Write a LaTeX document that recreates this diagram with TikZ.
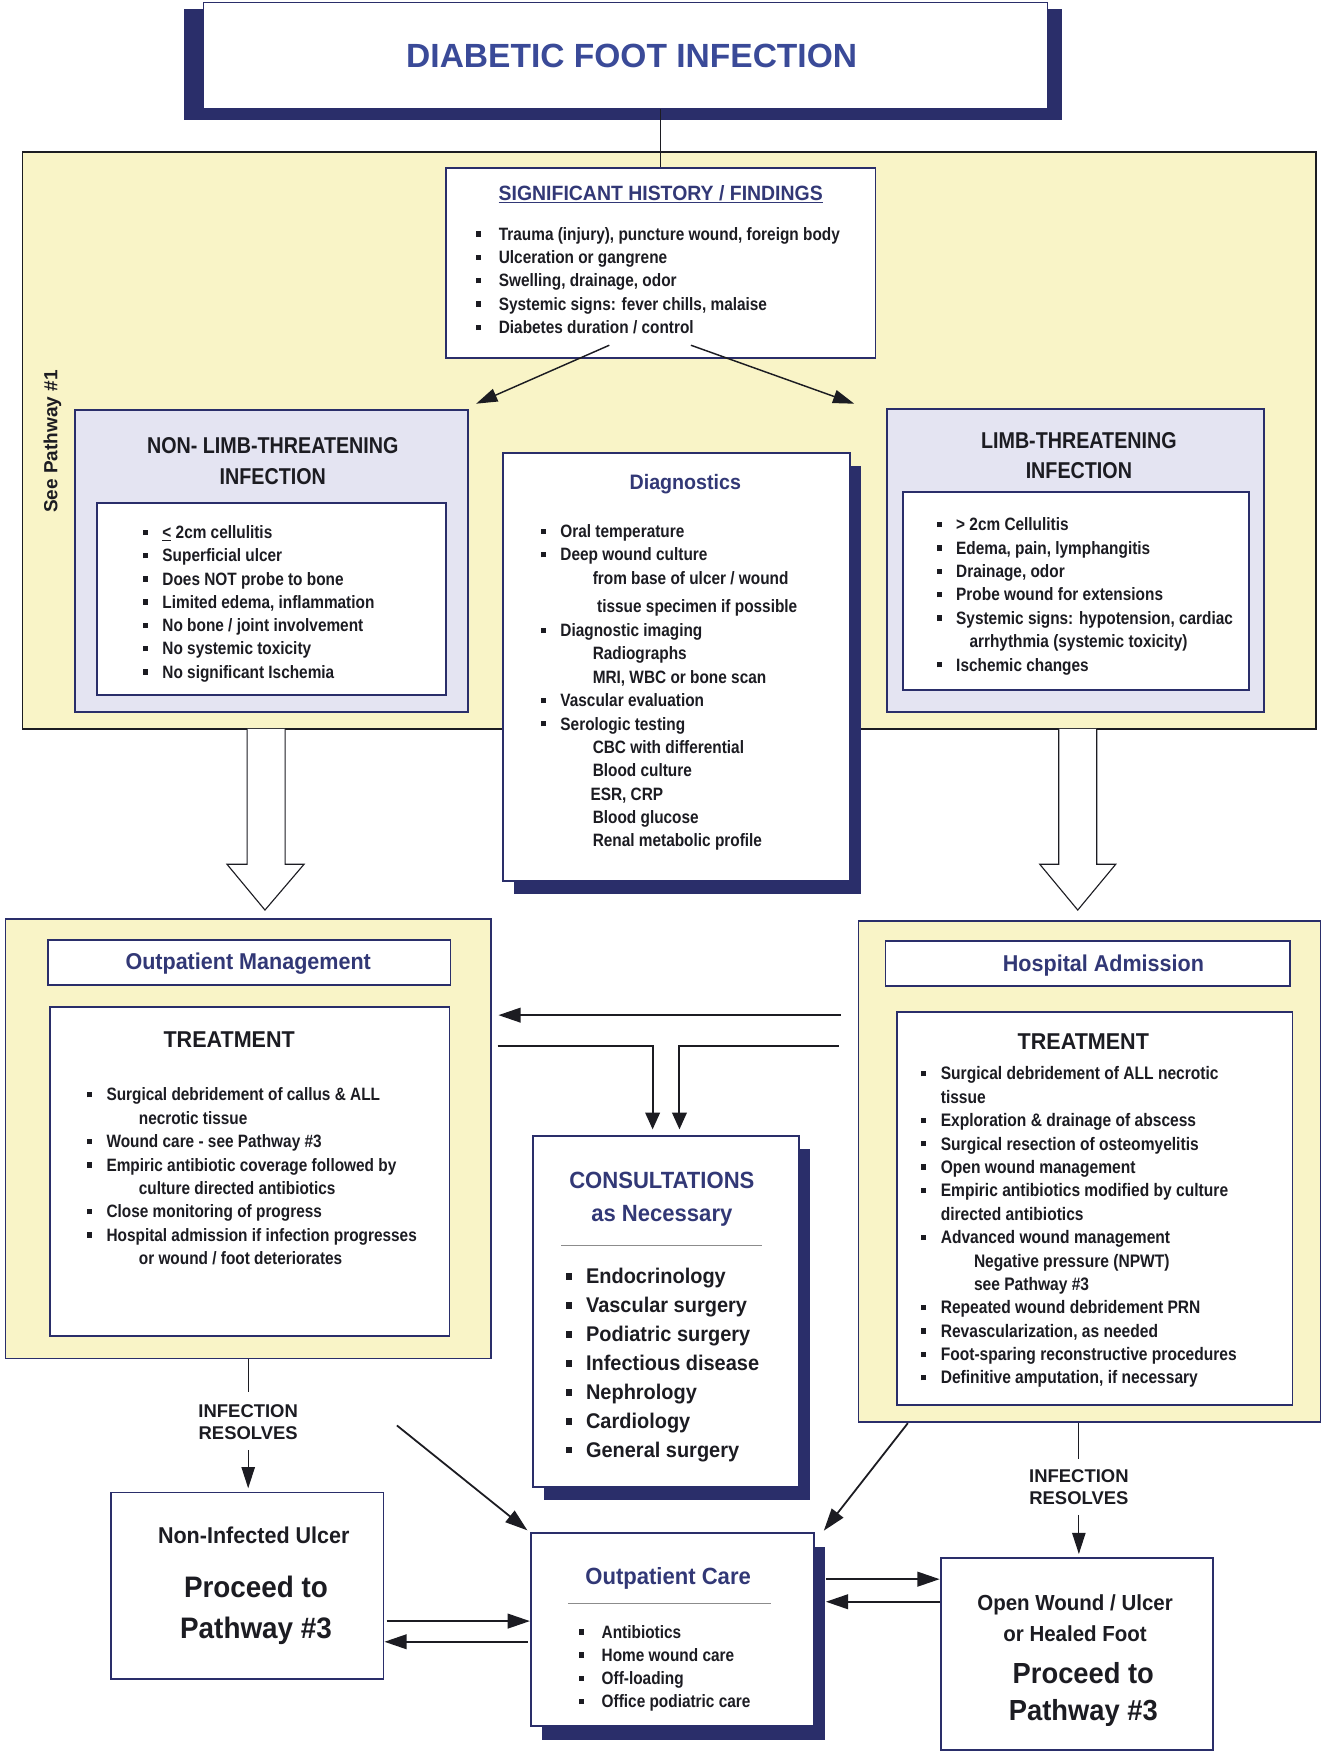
\documentclass[tikz,border=0pt]{standalone}
\usepackage{fontspec}
\setmainfont{Liberation Sans}
\newfontfamily\nf[FakeStretch=0.86]{Liberation Sans}
\newfontfamily\hf[FakeStretch=0.94]{Liberation Sans}
\usepackage{xcolor}
\usepackage{tikz}
\usetikzlibrary{positioning,shapes,arrows.meta,shadows}

\definecolor{navy}{RGB}{42,46,106}
\definecolor{headblue}{RGB}{50,56,118}
\definecolor{titleblue}{RGB}{58,74,152}
\definecolor{paleyellow}{RGB}{249,244,199}
\definecolor{lavender}{RGB}{228,228,242}
\definecolor{ink}{RGB}{28,28,34}

\newcommand{\sqb}[1][1.1em]{\makebox[#1][l]{\rule[.2em]{.3em}{.3em}}}

\begin{document}
\begin{tikzpicture}[x=1pt, y=-1pt,
    panel/.style={rectangle, draw=navy, line width=1.6pt, fill=white, inner sep=0pt},
    yellowpanel/.style={rectangle, draw=navy, line width=1.5pt, fill=paleyellow, inner sep=0pt},
    lavpanel/.style={rectangle, draw=navy, line width=1.8pt, fill=lavender, inner sep=0pt},
    shadowed/.style={drop shadow={shadow xshift=10pt, shadow yshift=-12pt, fill=navy, opacity=1}},
    body/.style={anchor=north west, inner sep=0pt, align=left, text=ink, font=\nf\bfseries\fontsize{16}{20.9}\selectfont},
    heading/.style={inner sep=0pt, align=center, text=headblue, font=\hf\bfseries\fontsize{20.5}{29}\selectfont},
    infhead/.style={inner sep=0pt, align=center, text=ink, font=\nf\bfseries\fontsize{20.5}{27}\selectfont},
    treathead/.style={inner sep=0pt, text=ink, font=\hf\bfseries\fontsize{20.5}{24}\selectfont},
    resolve/.style={inner sep=0pt, align=center, text=ink, font=\bfseries\fontsize{16.5}{20}\selectfont},
    bigtext/.style={inner sep=0pt, align=center, text=ink, font=\hf\bfseries\fontsize{26.5}{37}\selectfont},
    arrow/.style={-{Triangle[length=20pt, width=13pt]}, line width=2.2pt, draw=ink},
    thinarrow/.style={-{Triangle[length=19pt, width=12pt]}, line width=1.3pt, draw=ink},
    link/.style={line width=1.1pt, draw=ink},
    hollow/.style={draw=ink, line width=1pt, fill=white},
    rulegray/.style={draw=black!45, line width=0.8pt}
]
\useasboundingbox (0,0) rectangle (1183,1568);
\fill[white] (0,0) rectangle (1183,1568);

% Title
\fill[navy] (165,8) rectangle (950,107);
\node[panel, line width=1pt, minimum width=755pt, minimum height=95pt] (title) at (559.5,49.5) {};
\node[inner sep=0pt, text=titleblue, font=\bfseries\fontsize{30}{34}\selectfont] (titletext) at (565,50) {DIABETIC FOOT INFECTION};

% Assessment region
\node[yellowpanel, draw=ink, line width=1.3pt, minimum width=1157pt, minimum height=516pt] (upper) at (598.5,394) {};
\node[rotate=90, inner sep=0pt, text=ink, font=\bfseries\fontsize{17}{20}\selectfont] (seepath) at (47,395) {See Pathway \#1};

% History / findings
\node[panel, minimum width=384pt, minimum height=170pt] (hist) at (591,235) {};
\node[heading, font=\hf\bfseries\fontsize{18.5}{22}\selectfont] (histhead) at (591,174) {\underline{SIGNIFICANT HISTORY / FINDINGS}};
\node[body] (histlist) at (425.5,203) {\sqb[20.5pt]Trauma (injury), puncture wound, foreign body\\
  \sqb[20.5pt]Ulceration or gangrene\\
  \sqb[20.5pt]Swelling, drainage, odor\\
  \sqb[20.5pt]Systemic signs: fever chills, malaise\\
  \sqb[20.5pt]Diabetes duration / control};
\draw[link] (title.south -| hist.north) -- (hist.north);

% Non limb-threatening
\node[lavpanel, minimum width=352pt, minimum height=270pt] (nonlimb) at (243,502) {};
\node[infhead] (nonlimbhead) at (244,412.5) {NON- LIMB-THREATENING\\INFECTION};
\node[panel, minimum width=312pt, minimum height=172pt] (nonlimbin) at (243,536) {};
\node[body, font=\nf\bfseries\fontsize{16}{20.8}\selectfont] (nonlimblist) at (127.5,470) {\sqb\underline{<} 2cm cellulitis\\
  \sqb Superficial ulcer\\
  \sqb Does NOT probe to bone\\
  \sqb Limited edema, inflammation\\
  \sqb No bone / joint  involvement\\
  \sqb No systemic  toxicity\\
  \sqb No significant Ischemia};

% Limb-threatening
\node[lavpanel, minimum width=338pt, minimum height=271pt] (limb) at (962,501.5) {};
\node[infhead] (limbhead) at (965,407.5) {LIMB-THREATENING\\INFECTION};
\node[panel, minimum width=309pt, minimum height=177pt] (limbin) at (962.5,528.5) {};
\node[body] (limblist) at (837.5,463) {\sqb > 2cm Cellulitis\\
  \sqb Edema, pain, lymphangitis\\
  \sqb Drainage, odor\\
  \sqb Probe wound for extensions\\
  \sqb Systemic signs: hypotension, cardiac\\
  \hspace*{29.5pt}arrhythmia (systemic toxicity)\\
  \sqb Ischemic changes};

\draw[thinarrow] ([xshift=-46pt, yshift=12pt]hist.south) -- ([xshift=6pt, yshift=5pt]nonlimb.north east);
\draw[thinarrow] ([xshift=27pt, yshift=12pt]hist.south) -- ([xshift=-28pt, yshift=4pt]limb.north west);

% Diagnostics
\node[panel, shadowed, minimum width=310pt, minimum height=383pt] (diag) at (605,596.5) {};
\node[heading, font=\hf\bfseries\fontsize{18.7}{22}\selectfont] (diaghead) at (613,433) {Diagnostics};
\node[body] (diaglist) at (483.5,469) {\sqb Oral temperature\\
  \sqb Deep wound culture\\
  \hspace*{46.5pt}from base of ulcer / wound\\[4pt]
  \hspace*{50.5pt}tissue specimen if possible\\[1pt]
  \sqb Diagnostic imaging\\
  \hspace*{46.5pt}Radiographs\\
  \hspace*{46.5pt}MRI, WBC or bone scan\\
  \sqb Vascular evaluation\\
  \sqb Serologic testing\\
  \hspace*{46.5pt}CBC with differential\\
  \hspace*{46.5pt}Blood culture\\
  \hspace*{44.5pt}ESR, CRP\\
  \hspace*{46.5pt}Blood glucose\\
  \hspace*{46.5pt}Renal metabolic profile};

% Block arrows down
\draw[hollow] (221,652) -- (221,773) -- (203,773) -- (237,814) -- (272,773) -- (255,773) -- (255,652);
\draw[hollow] (947,652) -- (947,773) -- (930,773) -- (964,814) -- (998,773) -- (981,773) -- (981,652);

% Outpatient management
\node[yellowpanel, minimum width=434pt, minimum height=393pt] (outmgmt) at (222,1018.5) {};
\node[panel, minimum width=360pt, minimum height=40pt] (outhead) at (223,861) {};
\node[heading] (outheadtext) at (222,862) {Outpatient Management};
\node[panel, minimum width=357pt, minimum height=294pt] (outtreat) at (223.5,1048) {};
\node[treathead] (outtreathead) at (205,930) {TREATMENT};
\node[body] (outlist) at (77.5,973) {\sqb Surgical debridement of callus \& ALL\\
  \hspace*{46.5pt}necrotic tissue\\
  \sqb Wound care - see Pathway \#3\\
  \sqb Empiric antibiotic coverage followed by\\
  \hspace*{46.5pt}culture directed antibiotics\\
  \sqb Close monitoring of progress\\
  \sqb Hospital admission if infection progresses\\
  \hspace*{46.5pt}or wound / foot deteriorates};

% Hospital admission
\node[yellowpanel, minimum width=413pt, minimum height=448pt] (hosp) at (974.5,1048) {};
\node[panel, minimum width=362pt, minimum height=40pt] (hosphead) at (973,862) {};
\node[heading] (hospheadtext) at (987,864) {Hospital Admission};
\node[panel, minimum width=354pt, minimum height=352pt] (hosptreat) at (979,1081) {};
\node[treathead] (hosptreathead) at (969,932) {TREATMENT};
\node[body, font=\nf\bfseries\fontsize{16.2}{20.92}\selectfont] (hosplist) at (823.5,954) {\sqb Surgical debridement of ALL necrotic\\
  \hspace*{1.1em}tissue\\
  \sqb Exploration \& drainage of abscess\\
  \sqb Surgical resection of osteomyelitis\\
  \sqb Open wound management\\
  \sqb Empiric antibiotics modified by culture\\
  \hspace*{1.1em}directed antibiotics\\
  \sqb Advanced wound management\\
  \hspace*{47.5pt}Negative pressure (NPWT)\\
  \hspace*{47.5pt}see Pathway \#3\\
  \sqb Repeated wound debridement PRN\\
  \sqb Revascularization, as needed\\
  \sqb Foot-sparing reconstructive procedures\\
  \sqb Definitive amputation, if necessary};

% Consultations
\node[panel, shadowed, minimum width=238pt, minimum height=314pt] (consult) at (595.75,1173) {};
\node[heading, font=\hf\bfseries\fontsize{21}{29}\selectfont] (consulthead) at (592,1072.5) {CONSULTATIONS\\as Necessary};
\draw[rulegray] (502,1114) -- (682,1114);
\node[body, font=\hf\bfseries\fontsize{19}{25.9}\selectfont] (consultlist) at (506,1134.5) {\sqb[18pt]Endocrinology\\
  \sqb[18pt]Vascular surgery\\
  \sqb[18pt]Podiatric surgery\\
  \sqb[18pt]Infectious disease\\
  \sqb[18pt]Nephrology\\
  \sqb[18pt]Cardiology\\
  \sqb[18pt]General surgery};

\coordinate (backA) at (752,908);
\coordinate (fwdL) at (445,936);
\coordinate (fwdR) at (750,936);
\draw[arrow, shorten >=6pt] (backA) -- (outmgmt.east |- backA);
\draw[arrow, line width=1.8pt, -{Triangle[length=15pt, width=13pt]}, shorten >=5pt] (fwdL) -| ([xshift=-12pt]consult.north);
\draw[arrow, line width=1.8pt, -{Triangle[length=15pt, width=13pt]}, shorten >=5pt] (fwdR) -| ([xshift=12pt]consult.north);

% Outpatient care
\node[panel, shadowed, minimum width=253pt, minimum height=172.5pt] (ocare) at (601.35,1457.75) {};
\node[heading, font=\hf\bfseries\fontsize{21}{25}\selectfont] (ocarehead) at (597.6,1411.8) {Outpatient Care};
\draw[rulegray] (508,1434) -- (690,1434);
\node[body, font=\nf\bfseries\fontsize{16}{20.7}\selectfont] (ocarelist) at (517.5,1453.5) {\sqb[20.5pt]Antibiotics\\
  \sqb[20.5pt]Home wound care\\
  \sqb[20.5pt]Off-loading\\
  \sqb[20.5pt]Office podiatric care};

% Non-infected ulcer
\node[panel, minimum width=244pt, minimum height=167pt] (nonulcer) at (221,1418.5) {};
\node[inner sep=0pt, text=ink, font=\hf\bfseries\fontsize{20.5}{24}\selectfont] (nonulcertext) at (227,1373) {Non-Infected Ulcer};
\node[bigtext] (nonulcergo) at (229,1440.5) {Proceed to\\Pathway \#3};

% Open wound / healed foot
\node[panel, minimum width=243.3pt, minimum height=171.6pt] (openw) at (963,1479.6) {};
\node[inner sep=0pt, align=center, text=ink, font=\hf\bfseries\fontsize{19.5}{28}\selectfont] (openwtext) at (961.6,1447.6) {Open Wound / Ulcer\\or Healed Foot};
\node[bigtext, font=\hf\bfseries\fontsize{26}{33.4}\selectfont] (openwgo) at (969,1515.7) {Proceed to\\Pathway \#3};

% Infection resolves
\node[resolve] (resL) at (222,1272) {INFECTION\\RESOLVES};
\node[resolve] (resR) at (965,1330) {INFECTION\\RESOLVES};
\draw[link, shorten >=11pt] (resL.north |- outmgmt.south) -- (resL.north);
\draw[thinarrow, line width=1.1pt, shorten <=9pt, shorten >=3pt] (resL.south) -- (resL.south |- nonulcer.north);
\draw[link, shorten >=9pt] (resR.north |- hosp.south) -- (resR.north);
\draw[thinarrow, line width=1.1pt, shorten <=9pt, shorten >=3pt] (resR.south) -- (resR.south |- openw.north);

% Diagonal arrows into outpatient care
\coordinate (diagL) at (355,1275);
\coordinate (diagR) at (812,1273);
\draw[arrow, line width=1.6pt, shorten >=3pt] (diagL) -- (ocare.north west);
\draw[arrow, line width=1.6pt, shorten >=2pt] (diagR) -- ([xshift=7pt]ocare.north east);

% Two-way arrows at the bottom
\coordinate (lvlA) at (400,1450);
\coordinate (lvlB) at (400,1468.5);
\coordinate (lvlC) at (790,1412.5);
\coordinate (lvlD) at (790,1432.7);
\draw[arrow, shorten <=2pt] (nonulcer.east |- lvlA) -- (ocare.west |- lvlA);
\draw[arrow, shorten <=2pt] (ocare.west |- lvlB) -- (nonulcer.east |- lvlB);
\draw[arrow, shorten <=10pt] (ocare.east |- lvlC) -- (openw.west |- lvlC);
\draw[arrow, shorten >=10pt] (openw.west |- lvlD) -- (ocare.east |- lvlD);

\end{tikzpicture}
\end{document}
